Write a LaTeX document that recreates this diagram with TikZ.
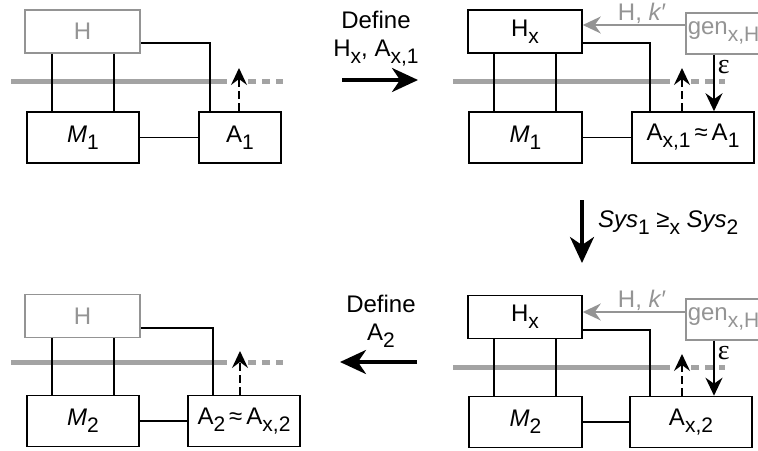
\documentclass[tikz,border=0pt]{standalone}
\usepackage{fontspec}
\setmainfont{Liberation Sans}
\newfontfamily\grk{Liberation Serif}
\usetikzlibrary{arrows.meta}

\colorlet{faint}{black!42}
\colorlet{bar}{black!36}
% lowered index, almost full size
\newcommand{\lo}[1]{\raisebox{-7pt}{\fontsize{21}{21}\selectfont #1}}

\begin{document}
\begin{tikzpicture}[x=1pt,y=-1pt,line width=1.4pt,
  every node/.style={font=\fontsize{24}{28}\selectfont},
  box/.style={draw,line width=1.6pt,minimum height=51,inner sep=0},
  ghost/.style={box,draw=faint,text=faint},
  bus/.style={draw=bar,line width=5pt},
  busdots/.style={draw=bar,line width=5pt,dash pattern=on 8pt off 6pt},
  probe/.style={line width=1.6pt,dash pattern=on 8pt off 4pt,
    -{Stealth[length=17pt,width=16pt,inset=6pt]}},
  feed/.style={line width=1.6pt,-{Stealth[length=18pt,width=17pt,inset=6pt]}},
  bigarrow/.style={line width=3.5pt,-{Stealth[length=26pt,width=24pt,inset=8pt]}}]
\useasboundingbox (0,0) rectangle (758,450);
\clip (0,0) rectangle (758,450);

% system 1, original
\draw[bus] (11,81) -- (227,81);
\draw[busdots] (248,81) -- (283,81);
\node[ghost,minimum width=115,minimum height=43] (h1) at (82.5,31.5) {H};
\node[box,minimum width=112] (m1) at (83,137.5) {\textit{M}\lo{1}};
\node[box,minimum width=82] (a1) at (240,137.5) {A\lo{1}};
\draw (52,0 |- h1.south) -- (52,0 |- m1.north);
\draw (114,0 |- h1.south) -- (114,0 |- m1.north);
\draw (h1.east |- 0,43) -| (210,0 |- a1.north);
\draw (m1) -- (a1);
\coordinate (t1) at (239,68);
\draw[probe] (a1.north -| t1) -- (t1);

% system 1, with hybrid
\draw[bus] (453,81) -- (670,81);
\draw[busdots] (691,81) -- (725,81);
\node[box,minimum width=114,minimum height=43] (hx1) at (525,31.5) {H\lo{x}};
\node[box,minimum width=113] (mx1) at (525.5,137.5) {\textit{M}\lo{1}};
\node[box,minimum width=122] (ax1) at (693,137.5) {A\lo{x,1}\,≈\,A\lo{1}};
\node[ghost,anchor=north west,minimum height=41,text width=96,inner xsep=2,align=left]
  (gen1) at (685,12) {gen\lo{x,H}};
\draw (494,0 |- hx1.south) -- (494,0 |- mx1.north);
\draw (556,0 |- hx1.south) -- (556,0 |- mx1.north);
\draw (hx1.east |- 0,43) -| (650,0 |- ax1.north);
\draw (mx1) -- (ax1);
\draw[feed,faint] (gen1.west |- 0,25) -- (hx1.east |- 0,25)
  node[pos=0.42,above,inner sep=1pt,text=faint] {H, \textit{k}′};
\draw[feed] (714,0 |- gen1.south) -- (714,0 |- ax1.north)
  node[pos=0.22,right,inner sep=3pt] {\grk\fontsize{28}{28}\selectfont ε};
\coordinate (t2) at (682,68);
\draw[probe] (ax1.north -| t2) -- (t2);

% system 2, with hybrid
\begin{scope}[shift={(0,285)}]
\draw[bus] (453,82) -- (670,82);
\draw[busdots] (691,82) -- (725,82);
\node[box,minimum width=114,minimum height=43] (hx2) at (525,32) {H\lo{x}};
\node[box,minimum width=113] (mx2) at (525.5,137) {\textit{M}\lo{2}};
\node[box,minimum width=122] (ax2) at (691,137) {A\lo{x,2}};
\node[ghost,anchor=north west,minimum height=41,text width=96,inner xsep=2,align=left]
  (gen2) at (685,13) {gen\lo{x,H}};
\draw (494,0 |- hx2.south) -- (494,0 |- mx2.north);
\draw (556,0 |- hx2.south) -- (556,0 |- mx2.north);
\draw (hx2.east |- 0,45) -| (650,0 |- ax2.north);
\draw (mx2) -- (ax2);
\draw[feed,faint] (gen2.west |- 0,27) -- (hx2.east |- 0,27)
  node[pos=0.42,above,inner sep=1pt,text=faint] {H, \textit{k}′};
\draw[feed] (714,0 |- gen2.south) -- (714,0 |- ax2.north)
  node[pos=0.22,right,inner sep=3pt] {\grk\fontsize{28}{28}\selectfont ε};
\coordinate (t3) at (682,69);
\draw[probe] (ax2.north -| t3) -- (t3);
\end{scope}

% system 2, original
\begin{scope}[shift={(0,284)}]
\draw[bus] (11,78) -- (227,78);
\draw[busdots] (248,78) -- (283,78);
\node[ghost,minimum width=115,minimum height=43] (h2) at (82.5,32) {H};
\node[box,minimum width=112] (m2) at (83,137) {\textit{M}\lo{2}};
\node[box,minimum width=112] (a2) at (244,137) {A\lo{2}\,≈\,A\lo{x,2}};
\draw (52,0 |- h2.south) -- (52,0 |- m2.north);
\draw (114,0 |- h2.south) -- (114,0 |- m2.north);
\draw (h2.east |- 0,44) -| (213,0 |- a2.north);
\draw (m2) -- (a2);
\coordinate (t4) at (240,67);
\draw[probe] (a2.north -| t4) -- (t4);
\end{scope}

% steps between the systems
\coordinate (s1) at (342,80);
\coordinate (e1) at (418,80);
\draw[bigarrow] (s1) -- (e1);
\node[align=center] (def1) at (376,39) {Define\\H\lo{x}, A\lo{x,1}};
\coordinate (s2) at (582,200);
\coordinate (e2) at (582,263);
\draw[bigarrow] (s2) -- (e2);
\node[anchor=west] (rel) at (594,223) {\textit{Sys}\lo{1} ≥\lo{x} \textit{Sys}\lo{2}};
\coordinate (s3) at (417,362);
\coordinate (e3) at (340,362);
\draw[bigarrow] (s3) -- (e3);
\node[align=center] (def2) at (381,321) {Define\\A\lo{2}};
\end{tikzpicture}
\end{document}
